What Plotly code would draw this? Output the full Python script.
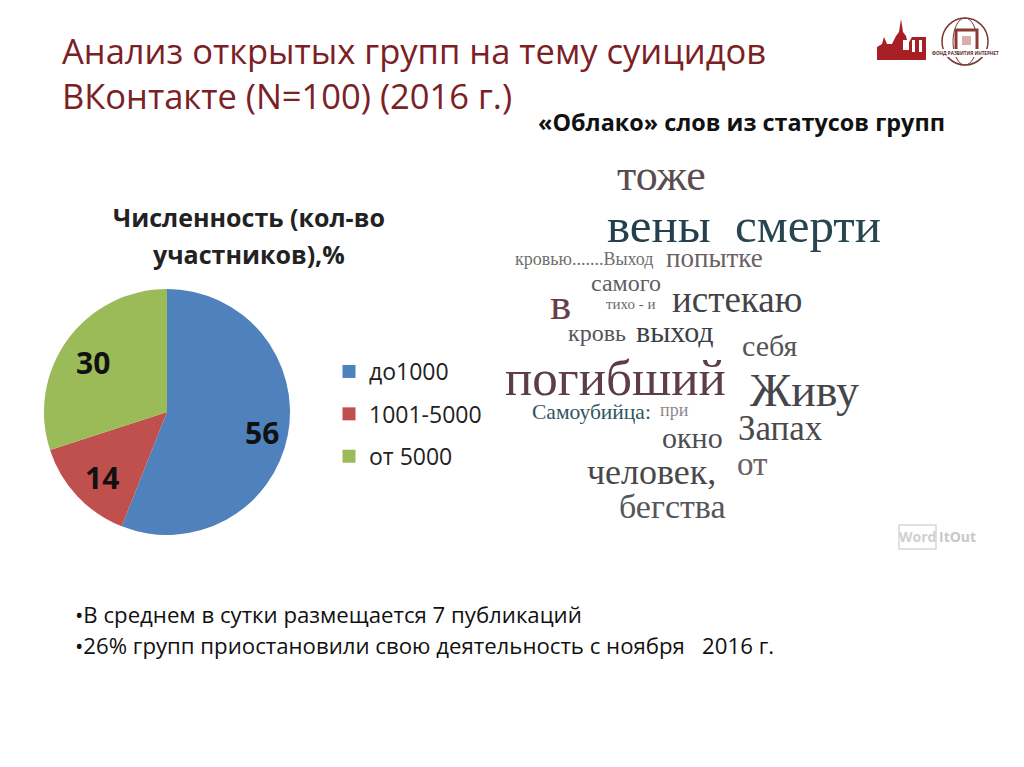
import plotly.graph_objects as go

W, H = 1024, 767

# ---- data ----
categories = ["до1000", "1001-5000", "от 5000"]
values = [56, 14, 30]
colors = ["#4f81bd", "#c0504d", "#9bbb59"]

title_lines = ["Анализ открытых групп на тему суицидов", "ВКонтакте (N=100) (2016 г.)"]
chart_title_lines = ["Численность (кол-во", "участников),%"]
cloud_title = "«Облако» слов из статусов групп"
bullets = ["•В среднем в сутки размещается 7 публикаций",
           "•26% групп приостановили свою деятельность с ноября\u00a0\u00a0 2016 г."]

cloud_words = ["тоже", "вены", "смерти", "кровью.......Выход", "попытке", "самого", "тихо - и",
               "истекаю", "в", "кровь", "выход", "себя", "погибший", "Живу", "Самоубийца:",
               "при", "окно", "Запах", "от", "человек,", "бегства"]

# ---- layout of the decoration (pixels) ----
cloud_x = [615, 605, 733, 513, 664, 589, 604, 670, 548, 566, 634, 740, 503, 748, 530, 658, 660, 736, 735, 585, 617]
cloud_y = [175, 226, 226, 259, 258, 283, 304, 299, 304, 333, 331, 346, 378, 391, 412, 410, 437, 429, 464, 472, 506]
cloud_size = [44, 49, 49, 18, 27, 24, 15, 37, 45, 24, 30, 30, 51, 46, 21.5, 18, 30, 35, 33, 36, 34]
cloud_color = ["#5a4c4e", "#24404c", "#28464f", "#707070", "#6c6064", "#5f5f63", "#6a6a6a", "#444448",
               "#6a3c4c", "#555558", "#3a4048", "#555558", "#5d3d48", "#46464a", "#2f5560", "#8a8a8a",
               "#4e4e52", "#4a4a4e", "#6a6064", "#48484c", "#56565a"]
value_x = [262, 102, 93]
value_y = [433, 477, 362]


def px(x):
    return x / W


def py(y):
    return 1 - y / H


def text(s, x, y, size, color, family, anchor="left", bold=False):
    return dict(text=f"<b>{s}</b>" if bold else s, x=px(x), y=py(y), xref="paper", yref="paper",
                xanchor=anchor, yanchor="middle", showarrow=False,
                font=dict(size=size, color=color, family=family))


def poly(points, fill):
    d = "M " + " L ".join(f"{px(a):.5f} {py(b):.5f}" for a, b in points) + " Z"
    return dict(type="path", xref="paper", yref="paper", line=dict(width=0), fillcolor=fill, path=d)


def outline(kind, x0, x1, y0, y1, color, width, fill="rgba(0,0,0,0)"):
    return dict(type=kind, xref="paper", yref="paper", x0=px(x0), x1=px(x1), y0=py(y1), y1=py(y0),
                line=dict(color=color, width=width), fillcolor=fill)


SANS = "Open Sans"
SERIF = "Liberation Serif"
ann = []
for i, s in enumerate(title_lines):
    ann.append(text(s, 60, 51 + 45 * i, 34.5, "#7b2126", SANS))
ann.append(text(cloud_title, 741, 122, 23.4, "#111111", SANS, "center", True))
for i, s in enumerate(chart_title_lines):
    ann.append(text(s, 249, 217 + 37 * i, 25, "#222222", SANS, "center", True))
for v, x, y in zip(values, value_x, value_y):
    ann.append(text(str(v), x, y, 30, "#111111", SANS, "center", True))
for s, x, y, sz, c in zip(cloud_words, cloud_x, cloud_y, cloud_size, cloud_color):
    ann.append(text(s, x, y, sz, c, SERIF))
for i, s in enumerate(bullets):
    ann.append(text(s, 73, 614 + 31 * i, 22.2, "#111111", SANS))
ann.append(text("Word", 917, 536, 14, "#d0d0d0", SANS, "center", True))
ann.append(text("ItOut", 957, 536, 14, "#c8c8c8", SANS, "center", True))
ann.append(text("ФОНД РАЗВИТИЯ ИНТЕРНЕТ", 965, 53, 4.6, "#5a2a28", SANS, "center", True))

fig = go.Figure()
fig.add_trace(go.Pie(values=values, labels=categories, sort=False, direction="clockwise", rotation=0,
                     marker=dict(colors=colors, line=dict(color="#ffffff", width=0)),
                     textinfo="none", hoverinfo="label+value", showlegend=False,
                     domain=dict(x=[px(44), px(290)], y=[py(535), py(289)])))
for i, (c, col) in enumerate(zip(categories, colors)):
    fig.add_trace(go.Scatter(x=[None], y=[None], mode="markers", name=c, legendgroup=f"g{i}",
                             marker=dict(symbol="square", size=13, color=col)))

# logos and the watermark outline (decorative)
shapes = [
    poly([(877, 60), (877, 47), (882, 44), (884, 37), (887, 44), (892, 44), (896, 36), (899, 32), (901, 19),
          (903, 32), (906, 36), (908, 44), (912, 37), (926, 37), (926, 60)], "#a81e25"),
    outline("rect", 903, 909, 40, 50, "#ffffff", 0, "#ffffff"),
    outline("rect", 912, 915, 40, 52, "#ffffff", 0, "#ffffff"),
    outline("rect", 919, 922, 40, 52, "#ffffff", 0, "#ffffff"),
    outline("circle", 942, 988, 18, 65, "#7a3a36", 1.5),
    outline("circle", 953, 977, 18, 65, "#7a3a36", 1),
    outline("rect", 956, 977, 30, 51, "#8a3c34", 3, "#ffffff"),
    outline("rect", 962, 971, 36, 45, "#c08a80", 0, "#d8b0a8"),
    outline("rect", 931, 999, 49, 57, "#ffffff", 0, "#ffffff"),
    outline("rect", 899, 936, 525, 549, "#d8d8d8", 1.5),
]

fig.update_layout(width=W, height=H, margin=dict(l=0, r=0, t=0, b=0), paper_bgcolor="#ffffff",
                  plot_bgcolor="#ffffff", annotations=ann, shapes=shapes,
                  xaxis=dict(visible=False), yaxis=dict(visible=False),
                  showlegend=True,
                  legend=dict(x=px(329), y=py(350), xanchor="left", yanchor="top", tracegroupgap=9.5,
                              itemwidth=30, font=dict(size=23, family=SANS, color="#222222"),
                              itemclick=False, bgcolor="rgba(0,0,0,0)"))
fig.write_html("out.html", config=dict(displayModeBar=False),
               post_script="document.body.style.margin='0';document.body.style.overflow='hidden';")
